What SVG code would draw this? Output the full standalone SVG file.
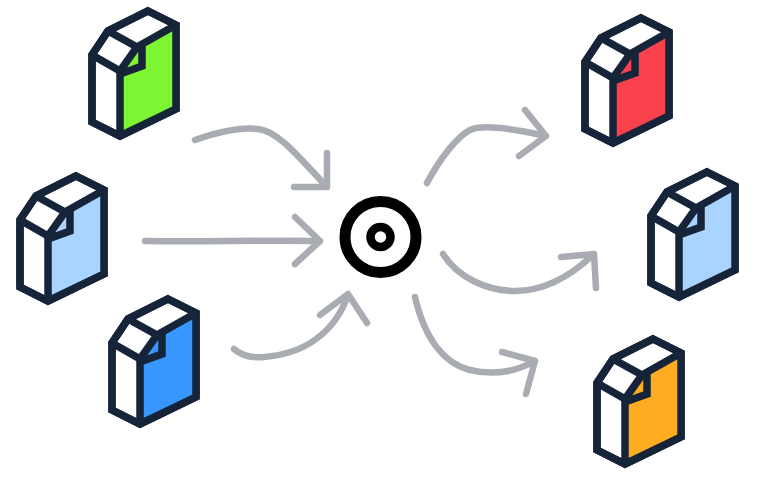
<svg xmlns="http://www.w3.org/2000/svg" width="758" height="478" viewBox="0 0 758 478">
<style>
.b{fill:#fff;stroke:#16243a;stroke-width:7.5;stroke-linejoin:miter;stroke-linecap:butt}
.l{fill:none;stroke:#16243a;stroke-width:7.5;stroke-linejoin:miter;stroke-linecap:butt}
.a{fill:none;stroke:#a9acb3;stroke-width:6.5;stroke-linecap:round;stroke-linejoin:round}
.p{fill:var(--c)}
</style>
<defs>
<g id="doc">
<path class="b" d="M148 11L176 25V109L120 136L92 122V55L108 31Z"/>
<path class="p" d="M137 47L176 25V109L120 136V72Z"/>
<path class="l" d="M148 11L176 25V109L120 136L92 122V55L108 31ZM92 55L120 71V136M108 31L137 47L176 25M137 47L120 71M142 45V66L120 74"/>
</g>
</defs>
<rect width="758" height="478" fill="#fff"/>
<g id="connectors">
<path class="a" d="M195 140C215 133 240 127 258 129C278 131 298 156 326 186M327 153V187H294"/>
<path class="a" d="M145 241C200 242 260 240 320 241M295 217L320 241L295 264"/>
<path class="a" d="M234 349C242 356 252 358 264 357C305 354 335 332 348 295M320 315L348 294L367 323"/>
<path class="a" d="M427 183C440 158 458 136 470 130C482 124 515 129 546 136M525 110L546 136L519 156"/>
<path class="a" d="M443 254C458 278 488 291 515 291C545 291 572 275 594 254M561 257L594 254L596 288"/>
<path class="a" d="M415 297C425 340 445 364 470 370C495 376 515 372 535 361M502 352L535 361L526 394"/>
</g>
<g id="target">
<circle cx="380.500" cy="237" r="35.500" fill="#fff" stroke="#000" stroke-width="11"/>
<circle cx="380.500" cy="237" r="10" fill="#fff" stroke="#000" stroke-width="8.500"/>
</g>
<g id="doc-green" style="--c:#7ef532"><use href="#doc"/></g>
<g id="doc-light-left" transform="translate(-72 165)" style="--c:#a8d4ff"><use href="#doc"/></g>
<g id="doc-blue" transform="translate(20 288)" style="--c:#3797ff"><use href="#doc"/></g>
<g id="doc-red" transform="translate(493 7)" style="--c:#f8414c"><use href="#doc"/></g>
<g id="doc-light-right" transform="translate(559 161)" style="--c:#a8d4ff"><use href="#doc"/></g>
<g id="doc-orange" transform="translate(505 328)" style="--c:#fdad1f"><use href="#doc"/></g>
</svg>
